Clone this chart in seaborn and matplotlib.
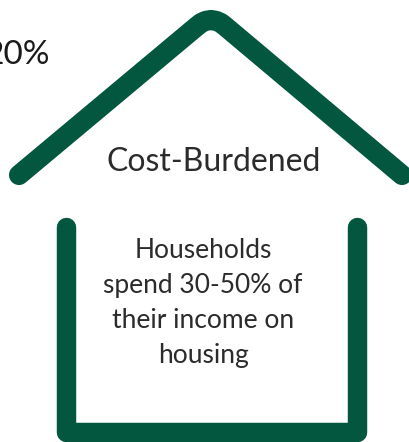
import seaborn as sns
import matplotlib.pyplot as plt

# outline of the house (pixels)
roof_x = [19, 196, 201, 206, 211, 216, 221, 226, 402]
roof_y = [175, 27, 23, 20.8, 20, 20.8, 23, 27, 175]
wall_x = [66, 66, 357, 357]
wall_y = [227, 432, 432, 227]

green = "#04573f"
dark = "#2c2a2b"

sns.set_theme(style="white")
plt.rcParams['font.family'] = ['Lato', 'DejaVu Sans']

fig = plt.figure(figsize=(4.09, 4.42), dpi=100)
ax = fig.add_axes([0, 0, 1, 1])

sns.lineplot(x=roof_x, y=roof_y, sort=False, estimator=None, color=green, lw=14.5,
             solid_capstyle='round', solid_joinstyle='round', ax=ax)
sns.lineplot(x=wall_x, y=wall_y, sort=False, estimator=None, color=green, lw=14,
             solid_capstyle='round', solid_joinstyle='round', ax=ax)

ax.set_xlim(0, 409)
ax.set_ylim(442, 0)
ax.axis('off')

ax.text(50, 55, "20%", ha='right', va='center', fontsize=24, color='#1a1a1a')
ax.text(213.5, 162, "Cost-Burdened", ha='center', va='center', fontsize=23, color=dark)

body_lines = ["Households", "spend 30-50% of", "their income on", "housing"]
body_y = [251, 286, 321, 355]
for line, y in zip(body_lines, body_y):
    ax.text(203, y, line, ha='center', va='center', fontsize=19, color=dark)

fig.savefig("out.png", dpi=100)
